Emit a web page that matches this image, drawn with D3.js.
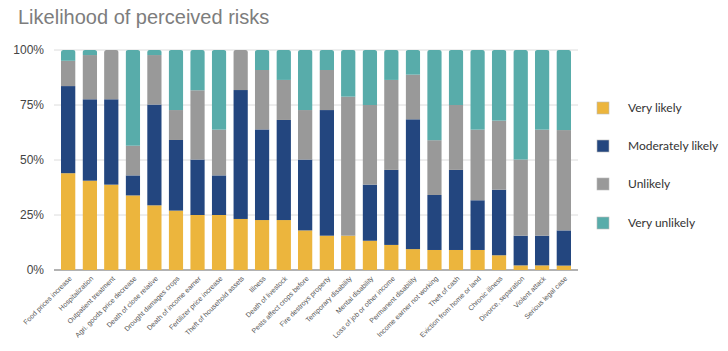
<!DOCTYPE html>
<html lang="en">
<head>
    <meta charset="UTF-8">
    <title>Likelihood of perceived risks</title>
    <script src="https://d3js.org/d3.v7.min.js"></script>
    <style>
        body { margin: 0; background: #fff; }
        .title { font-family: "Liberation Sans", Arial, sans-serif; font-size: 20px; fill: #7d7d7d; }
        .axis-y text { font-family: "Liberation Sans", Arial, sans-serif; font-size: 12px; fill: #444; }
        .xlab { font-family: "Liberation Sans", Arial, sans-serif; font-size: 7px; fill: #555; }
        .legend text { font-family: "Lato", "Liberation Sans", sans-serif; font-size: 12px; fill: #333; }
    </style>
</head>
<body>
    <div id="chart-container"></div>
    <script>
        const categories = ["Food prices increase", "Hospitalization", "Outpatient treatment",
            "Agri. goods price decrease", "Death of close relative", "Drought damages crops",
            "Death of income earner", "Fertilizer price increase", "Theft of household assets",
            "Illness", "Death of livestock", "Pests affect crops before", "Fire destroys property",
            "Temporary disability", "Mental disability", "Loss of job or other income",
            "Permanent disability", "Income earner not working", "Theft of cash",
            "Eviction from home or land", "Chronic illness", "Divorce, separation",
            "Violent attack", "Serious legal case"];

        const veryLikely       = [44, 40.6, 38.8, 33.9, 29.4, 27, 25, 25, 23.2, 22.7, 22.7, 18, 15.6, 15.6, 13.3, 11.4, 9.5, 9.1, 9.1, 9.1, 6.7, 2.1, 2.1, 2];
        const moderatelyLikely = [39.6, 37, 38.8, 9.1, 45.8, 32.1, 25.2, 18, 58.6, 41.2, 45.5, 32.2, 57.1, 0, 25.5, 34.1, 59, 25, 36.4, 22.6, 29.8, 13.5, 13.5, 16];
        const unlikely         = [11.5, 20.1, 22.4, 13.5, 22.5, 13.6, 31.5, 20.8, 18.2, 27, 18.2, 22.5, 18.2, 63.2, 36.2, 40.9, 20.3, 24.9, 29.5, 32.1, 31.4, 34.6, 48.2, 45.6];
        const veryUnlikely     = [4.9, 2.3, 0, 43.5, 2.3, 27.3, 18.3, 36.2, 0, 9.1, 13.6, 27.3, 9.1, 21.2, 25, 13.6, 11.2, 41, 25, 36.2, 32.1, 49.8, 36.2, 36.4];

        const seriesNames = ["Very likely", "Moderately likely", "Unlikely", "Very unlikely"];
        const seriesColors = ["#ecb53d", "#23467f", "#999999", "#58acaa"];
        const yTicks = [0, 25, 50, 75, 100];

        const W = 728, H = 351;
        const plot = {left: 54, right: 578, top: 50, bottom: 270};

        const svg = d3.select("#chart-container").append("svg")
            .attr("width", W).attr("height", H);

        svg.append("text").attr("class", "title")
            .attr("x", 18).attr("y", 24)
            .text("Likelihood of perceived risks");

        const x = d3.scaleBand()
            .domain(categories)
            .range([plot.left, plot.right])
            .paddingInner(0.325).paddingOuter(0.325);

        const y = d3.scaleLinear().domain([0, 100]).range([plot.bottom, plot.top]);

        // gridlines
        svg.append("g").selectAll("line")
            .data(yTicks.filter(d => d > 0))
            .join("line")
            .attr("x1", plot.left).attr("x2", plot.right)
            .attr("y1", d => y(d)).attr("y2", d => y(d))
            .attr("stroke", "#dcdcdc").attr("stroke-width", 1);

        // baseline
        svg.append("line")
            .attr("x1", plot.left).attr("x2", plot.right)
            .attr("y1", y(0)).attr("y2", y(0))
            .attr("stroke", "#666").attr("stroke-width", 1.2);

        // y axis labels
        svg.append("g")
            .attr("class", "axis-y")
            .attr("transform", `translate(${plot.left - 7},0)`)
            .call(d3.axisLeft(y).tickValues(yTicks).tickSize(0).tickFormat(d => d + "%"))
            .call(g => g.select(".domain").remove());

        // stack
        const table = categories.map((c, i) => ({
            cat: c,
            "Very likely": veryLikely[i],
            "Moderately likely": moderatelyLikely[i],
            "Unlikely": unlikely[i],
            "Very unlikely": veryUnlikely[i]
        }));
        const stacked = d3.stack().keys(seriesNames)(table);

        // clip each bar to a rounded-top shape
        const defs = svg.append("defs");
        categories.forEach((c, i) => {
            defs.append("clipPath").attr("id", "clip" + i)
                .append("rect")
                .attr("x", x(c)).attr("y", y(100))
                .attr("width", x.bandwidth())
                .attr("height", y(0) - y(100) + 3)
                .attr("rx", 2.5);
        });

        svg.append("g").selectAll("g")
            .data(stacked)
            .join("g")
            .attr("fill", (d, i) => seriesColors[i])
            .selectAll("rect")
            .data(d => d)
            .join("rect")
            .attr("clip-path", (d, i) => `url(#clip${i})`)
            .attr("x", d => x(d.data.cat))
            .attr("y", d => y(d[1]))
            .attr("width", x.bandwidth())
            .attr("height", d => y(d[0]) - y(d[1]));

        // x labels
        svg.append("g").selectAll("text")
            .data(categories)
            .join("text")
            .attr("class", "xlab")
            .attr("text-anchor", "end")
            .attr("transform", d => `translate(${x(d) + x.bandwidth() / 2 + 4},${plot.bottom + 9}) rotate(-45)`)
            .text(d => d);

        // legend
        const legend = svg.append("g").attr("class", "legend");
        const legendY = [108, 146, 184, 223];
        seriesNames.forEach((name, i) => {
            legend.append("rect")
                .attr("x", 597).attr("y", legendY[i] - 6)
                .attr("width", 12).attr("height", 12)
                .attr("fill", seriesColors[i])
                .attr("stroke", "#bbb").attr("stroke-width", 0.6);
            legend.append("text")
                .attr("x", 628).attr("y", legendY[i] + 4)
                .text(name);
        });
    </script>
</body>
</html>
